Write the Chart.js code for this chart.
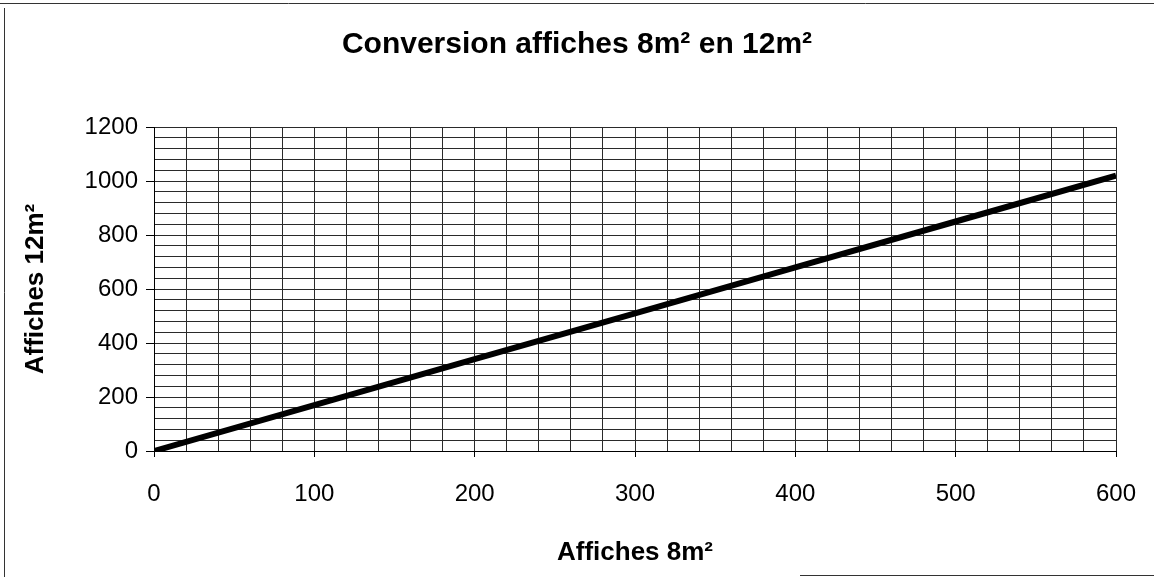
<!DOCTYPE html>
<html lang="fr">
<head>
<meta charset="utf-8">
<title>Conversion affiches 8m² en 12m²</title>
<script src="https://cdn.jsdelivr.net/npm/chart.js@4/dist/chart.umd.min.js"></script>
<style>
  html, body { margin: 0; padding: 0; background: #ffffff; }
  #wrap { width: 1154px; height: 577px; position: relative; }
</style>
</head>
<body>
<div id="wrap"><canvas id="chart" width="1154" height="577"></canvas></div>
<script>
// Nombre d'affiches 8m² (axe horizontal) et équivalent en affiches 12m²
const affiches8m2 = [0, 100, 200, 300, 400, 500, 600];
const affiches12m2 = [0, 170, 340, 510, 680, 850, 1020];

// Graduations principales portant un libellé
const xTickLabels = [0, 100, 200, 300, 400, 500, 600];
const yTickLabels = [0, 200, 400, 600, 800, 1000, 1200];

const chartTitle = 'Conversion affiches 8m² en 12m²';
const xAxisTitle = 'Affiches 8m²';
const yAxisTitle = 'Affiches 12m²';

const FONT = '"Liberation Sans", Arial, sans-serif';

const points = affiches8m2.map((x, i) => ({ x: x, y: affiches12m2[i] }));

// Cadre extérieur du graphique
const framePlugin = {
  id: 'frame',
  afterDraw(chart) {
    const ctx = chart.ctx;
    ctx.save();
    ctx.strokeStyle = '#333';
    ctx.lineWidth = 1;
    ctx.beginPath();
    ctx.moveTo(0, 3.5); ctx.lineTo(1154, 3.5);
    ctx.moveTo(4.5, 8); ctx.lineTo(4.5, 577);
    ctx.moveTo(800, 575.5); ctx.lineTo(1154, 575.5);
    ctx.stroke();
    ctx.restore();
  }
};

function isMajor(list, v) { return list.indexOf(v) !== -1; }

new Chart(document.getElementById('chart'), {
  type: 'scatter',
  data: {
    datasets: [{
      data: points,
      showLine: true,
      borderColor: '#000',
      borderWidth: 6,
      pointRadius: 0,
      pointHoverRadius: 0,
      fill: false
    }]
  },
  options: {
    responsive: false,
    animation: false,
    events: [],
    layout: { padding: { left: 38, right: 38, top: 0, bottom: 0 } },
    plugins: {
      legend: { display: false },
      tooltip: { enabled: false },
      title: {
        display: true,
        text: chartTitle,
        color: '#000',
        font: { family: FONT, size: 30, weight: 'bold' },
        padding: { top: 27, bottom: 64 }
      }
    },
    scales: {
      x: {
        type: 'linear',
        min: 0, max: 600,
        afterFit(scale) {
          scale.height = 126;
          scale.paddingLeft = 0;
          scale.paddingRight = 0;
        },
        ticks: {
          stepSize: 20,
          autoSkip: false,
          maxRotation: 0,
          padding: 23,
          color: '#000',
          font: { family: FONT, size: 24 },
          callback: (v) => isMajor(xTickLabels, v) ? String(v) : ''
        },
        grid: {
          color: '#2a2a2a',
          lineWidth: 1,
          tickLength: 6,
          tickColor: (c) => (c.tick && isMajor(xTickLabels, c.tick.value)) ? '#000' : 'rgba(0,0,0,0)'
        },
        border: { color: '#000', width: 1 },
        title: {
          display: true,
          text: xAxisTitle,
          color: '#000',
          font: { family: FONT, size: 26, weight: 'bold' },
          padding: { top: 0, bottom: 9 }
        }
      },
      y: {
        type: 'linear',
        min: 0, max: 1200,
        afterFit(scale) { scale.width = 116; },
        ticks: {
          stepSize: 40,
          autoSkip: false,
          padding: 8,
          color: '#000',
          font: { family: FONT, size: 24 },
          callback: (v) => isMajor(yTickLabels, v) ? String(v) : ''
        },
        grid: {
          color: '#2a2a2a',
          lineWidth: 1,
          tickLength: 8,
          tickColor: (c) => (c.tick && isMajor(yTickLabels, c.tick.value)) ? '#000' : 'rgba(0,0,0,0)'
        },
        border: { color: '#000', width: 1 },
        title: {
          display: true,
          text: yAxisTitle,
          color: '#000',
          font: { family: FONT, size: 26, weight: 'bold' },
          padding: { top: -18, bottom: 0 }
        }
      }
    }
  },
  plugins: [framePlugin]
});
</script>
</body>
</html>
